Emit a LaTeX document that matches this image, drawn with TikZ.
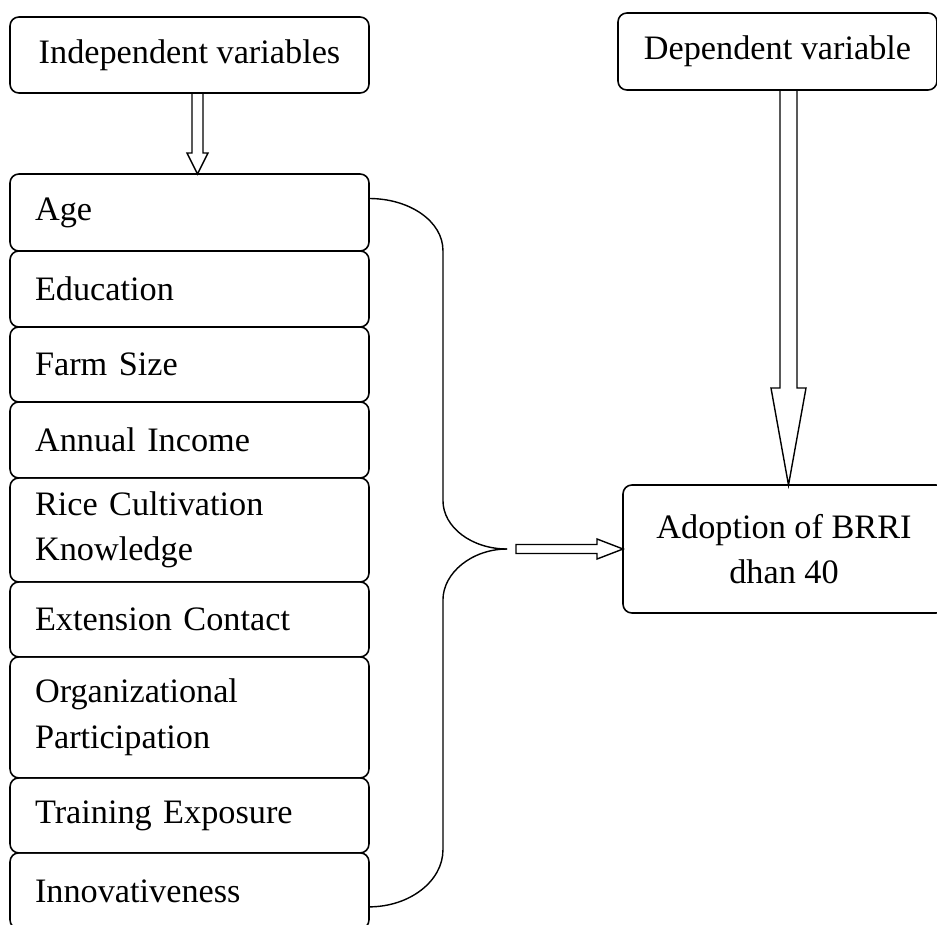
\documentclass[tikz,border=0pt]{standalone}
\usepackage{fontspec}
\setmainfont{Liberation Serif}
\usetikzlibrary{positioning}
\usetikzlibrary{calc}

% hollow block arrows: start, tip, shaft half width, head half width, head length
\newcommand{\hollowdown}[5]{%
\draw[hollow] ($(#1)+(-#3,0)$) -- ($(#2)+(-#3,-#5)$) -- ($(#2)+(-#4,-#5)$) -- (#2) -- ($(#2)+(#4,-#5)$) -- ($(#2)+(#3,-#5)$) -- ($(#1)+(#3,0)$);}
\newcommand{\hollowright}[5]{%
\draw[hollow] ($(#1)+(0,-#3)$) -- ($(#2)+(-#5,-#3)$) -- ($(#2)+(-#5,-#4)$) -- (#2) -- ($(#2)+(-#5,#4)$) -- ($(#2)+(-#5,#3)$) -- ($(#1)+(0,#3)$) -- cycle;}

\begin{document}
\begin{tikzpicture}[x=0.02cm,y=-0.02cm,
  box/.style={draw,line width=0.9pt,rounded corners=5pt,outer sep=0pt,font=\fontsize{19.5}{26}\selectfont},
  varbox/.style={box,anchor=north,text width=6.18cm,inner xsep=0.5cm,align=left},
  link/.style={line width=0.8pt},
  hollow/.style={line width=0.8pt,line join=miter}]
\useasboundingbox (0,0) rectangle (937,924);

\node[box,minimum width=7.18cm,minimum height=1.52cm,align=center] (iv) at (189.5,55) {Independent variables};
\node[box,minimum width=6.38cm,minimum height=1.54cm,align=center] (dv) at (777.5,51.5) {Dependent variable};

\node[varbox,minimum height=1.54cm] (age) at (189.5,174) {Age};
\node[varbox,minimum height=1.52cm,below=0pt of age] (edu) {Education};
\node[varbox,minimum height=1.50cm,below=0pt of edu] (farm) {Farm Size};
\node[varbox,minimum height=1.52cm,below=0pt of farm] (income) {Annual Income};
\node[varbox,minimum height=2.08cm,below=0pt of income] (rice) {Rice Cultivation\\Knowledge};
\node[varbox,minimum height=1.50cm,below=0pt of rice] (ext) {Extension Contact};
\node[varbox,minimum height=2.42cm,below=0pt of ext] (org) {Organizational\\Participation};
\node[varbox,minimum height=1.50cm,below=0pt of org] (train) {Training Exposure};
\node[varbox,minimum height=1.52cm,below=0pt of train] (innov) {Innovativeness};

\node[box,minimum width=6.44cm,minimum height=2.56cm,align=center] (adopt) at (784,549) {Adoption of BRRI\\dhan 40};

\coordinate (ivs) at ($(iv.south)+(8,0)$);
\coordinate (agen) at ($(age.north)+(8,0)$);
\coordinate (dvs) at ($(dv.south)+(11,0)$);
\coordinate (adoptn) at ($(adopt.north)+(4.5,0)$);
\coordinate (join) at ($(adopt.west)+(-116,0)$);
\coordinate (shaft) at ($(join)+(9,0)$);

% brace from the variables
\draw[link] ($(age.east)+(0,-14)$) .. controls +(41,0) and +(0,-29) .. ++(74,52) -- ++(0,250) .. controls +(0,27) and +(-35,0) .. (join);
\draw[link] ($(innov.east)+(0,16)$) .. controls +(41,0) and +(0,31) .. ++(74,-57) -- ++(0,-250) .. controls +(0,-27) and +(-35,0) .. (join);

\hollowdown{ivs}{agen}{5.5}{10.5}{21}
\hollowdown{dvs}{adoptn}{8.5}{17.5}{97}
\hollowright{shaft}{adopt.west}{4.5}{10}{26}

\end{tikzpicture}
\end{document}
